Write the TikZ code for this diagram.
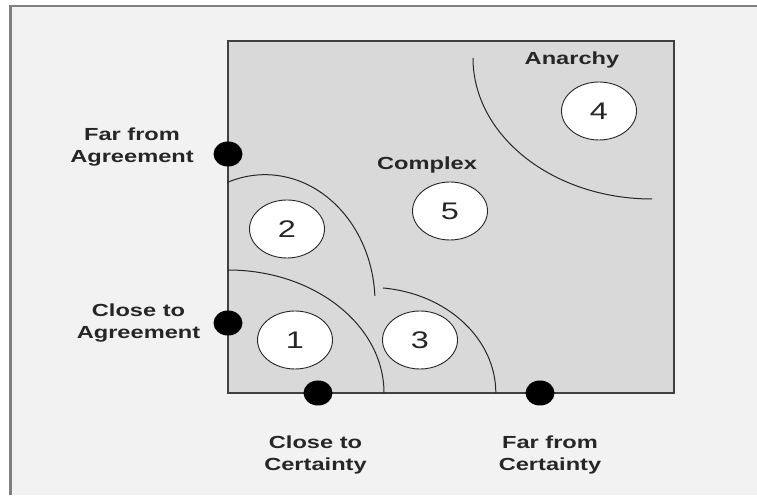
\documentclass[tikz,border=0pt]{standalone}
\usepackage{fontspec}
\newfontfamily\lblfont{Liberation Sans}[FakeStretch=1.35]
\usepackage{tikz}
\usetikzlibrary{positioning,shapes.geometric}

\begin{document}
\begin{tikzpicture}[x=1pt,y=1pt,
  lbl/.style={font=\lblfont\bfseries\fontsize{17.5}{22.3}\selectfont,align=center,text=black!85,inner sep=0pt},
  dot/.style={ellipse,fill=black,inner sep=0pt,minimum width=29pt,minimum height=25pt},
  zone/.style={ellipse,draw=black!85,line width=0.9pt,fill=white,inner sep=0pt,minimum width=75pt,minimum height=58pt,font=\lblfont\fontsize{24}{24}\selectfont,text=black!85},
  bound/.style={draw=black!85,line width=1pt}]
\useasboundingbox (0,0) rectangle (757,495);
\fill[white] (0,0) rectangle (757,495);
\fill[black!5] (10.5,0) rectangle (757,489);
\draw[black!50,line width=2.5pt] (10.5,0) -- (10.5,489) -- (757,489);
% the square
\draw[fill=black!15,draw=black!75,line width=1.3pt] (228,102) rectangle (674,454);
% region boundaries
\draw[bound] (228,225) arc[start angle=90,end angle=0,x radius=156,y radius=123];
\draw[bound] (227.4,312.6) arc[start angle=110,end angle=3,x radius=110,y radius=128];
\draw[bound] (383,207) arc[start angle=84,end angle=0,x radius=126,y radius=105.6];
\draw[bound] (473,437) arc[start angle=180,end angle=270,x radius=179,y radius=141];
% end points of the axes
\node[dot] (farAgr) at (228,341) {};
\node[dot] (closeAgr) at (228,172) {};
\node[dot] (closeCert) at (318,102) {};
\node[dot] (farCert) at (540,102) {};
\node[lbl] (farAgrL) at (132,348) {Far from\\Agreement};
\node[lbl] (closeAgrL) at (138.5,172) {Close to\\Agreement};
\node[lbl] (closeCertL) at (315.5,40) {Close to\\Certainty};
\node[lbl] (farCertL) at (550,40) {Far from\\Certainty};
% zones
\node[zone] (z1) at (295,155) {1};
\node[zone] (z2) at (287,266) {2};
\node[zone] (z3) at (420,155) {3};
\node[zone] (z4) at (599,384) {4};
\node[zone] (z5) at (450,284) {5};
\node[lbl,anchor=base] (anarchy) at (572,430) {Anarchy};
\node[lbl,anchor=base] (complex) at (427,325) {Complex};
\end{tikzpicture}
\end{document}
